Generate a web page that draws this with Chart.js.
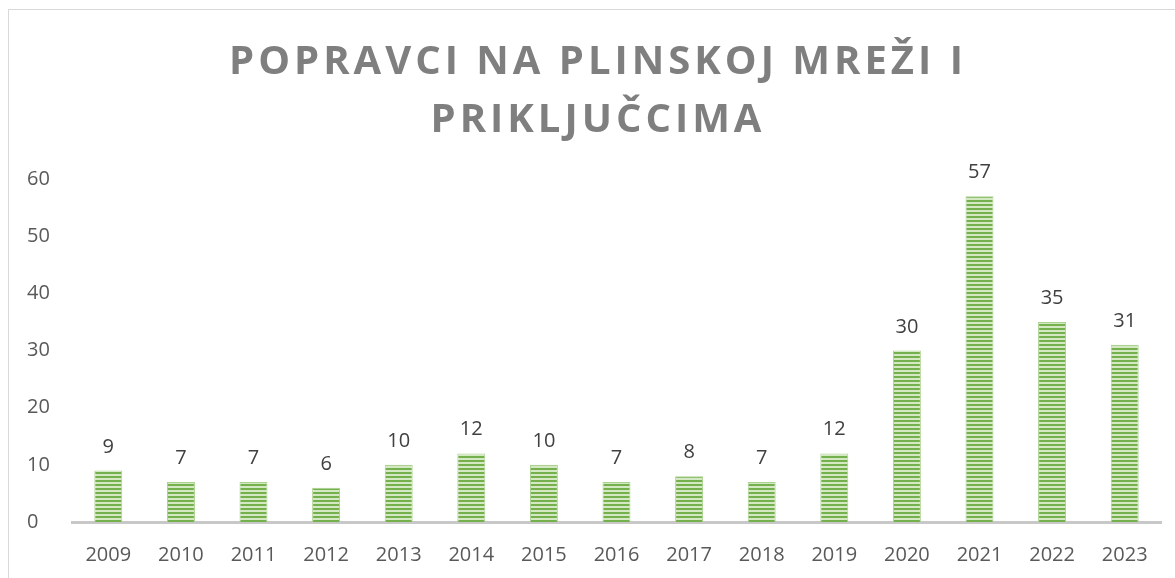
<!DOCTYPE html>
<html>
<head>
<meta charset="utf-8">
<script src="https://cdn.jsdelivr.net/npm/chart.js@4"></script>
<style>
  html, body { margin: 0; padding: 0; background: #fff; overflow: hidden; }
  #frame {
    position: absolute; left: 8px; top: 9px; width: 1200px; height: 620px;
    border: 1px solid #d9d9d9; box-sizing: border-box;
  }
  #title {
    position: absolute; left: 8px; top: 30px; width: 1176px;
    text-align: center; font-family: "Open Sans", sans-serif; font-weight: bold;
    font-size: 40px; line-height: 58px; letter-spacing: 4px; padding-left: 4px;
    box-sizing: border-box; color: #7f7f7f;
  }
  #wrap { position: absolute; left: 0; top: 0; width: 1175px; height: 578px; }
</style>
</head>
<body>
<div id="frame"></div>
<div id="wrap"><canvas id="chart" width="1175" height="578"></canvas></div>
<div id="title">POPRAVCI NA PLINSKOJ MREŽI I<br>PRIKLJUČCIMA</div>
<script>
// Podaci s grafa
const godine = ["2009", "2010", "2011", "2012", "2013", "2014", "2015", "2016", "2017", "2018", "2019", "2020", "2021", "2022", "2023"]
const popravci = [9, 7, 7, 6, 10, 12, 10, 7, 8, 7, 12, 30, 57, 35, 31]
const yTicks = [0, 10, 20, 30, 40, 50, 60]

// Prugasti zeleni uzorak za stupce
function stripePattern(ctx) {
  const c = document.createElement("canvas")
  c.width = 4
  c.height = 4
  const p = c.getContext("2d")
  p.fillStyle = "#d3e8c3"
  p.fillRect(0, 0, 4, 4)
  p.fillStyle = "#74b04c"
  p.fillRect(0, 0, 4, 2)
  return ctx.createPattern(c, "repeat")
}

// Oznake vrijednosti iznad stupaca
const valueLabels = {
  id: "valueLabels",
  afterDatasetsDraw(chart) {
    const ctx = chart.ctx
    ctx.save()
    ctx.font = "20px 'Open Sans'"
    ctx.fillStyle = "#404040"
    ctx.textAlign = "center"
    ctx.textBaseline = "alphabetic"
    chart.getDatasetMeta(0).data.forEach((bar, i) => {
      ctx.fillText(String(popravci[i]), bar.x, bar.y - 18)
    })
    ctx.restore()
  },
}

const ctx = document.getElementById("chart").getContext("2d")
new Chart(ctx, {
  type: "bar",
  data: {
    labels: godine,
    datasets: [
      {
        data: popravci,
        backgroundColor: stripePattern(ctx),
        borderColor: "#a9d18e",
        borderWidth: 1,
        barPercentage: 0.385,
        categoryPercentage: 1,
      },
    ],
  },
  options: {
    responsive: false,
    animation: false,
    layout: { padding: { left: 27, right: 14, top: 179, bottom: 0 } },
    plugins: {
      legend: { display: false },
      tooltip: { enabled: false },
    },
    scales: {
      x: {
        grid: { display: false, drawTicks: false },
        border: { color: "#c8c8c8", width: 3 },
        ticks: {
          color: "#595959",
          font: { family: "'Open Sans'", size: 20 },
          padding: 21,
          maxRotation: 0,
        },
        afterFit: (scale) => { scale.height = 56 },
      },
      y: {
        min: 0,
        max: 60,
        afterBuildTicks: (scale) => { scale.ticks = yTicks.map((v) => ({ value: v })) },
        grid: { display: false, drawTicks: false },
        border: { display: false },
        ticks: {
          color: "#595959",
          font: { family: "'Open Sans'", size: 20 },
          crossAlign: "far",
        },
        afterFit: (scale) => { scale.width = 45 },
      },
    },
  },
  plugins: [valueLabels],
})
</script>
</body>
</html>
